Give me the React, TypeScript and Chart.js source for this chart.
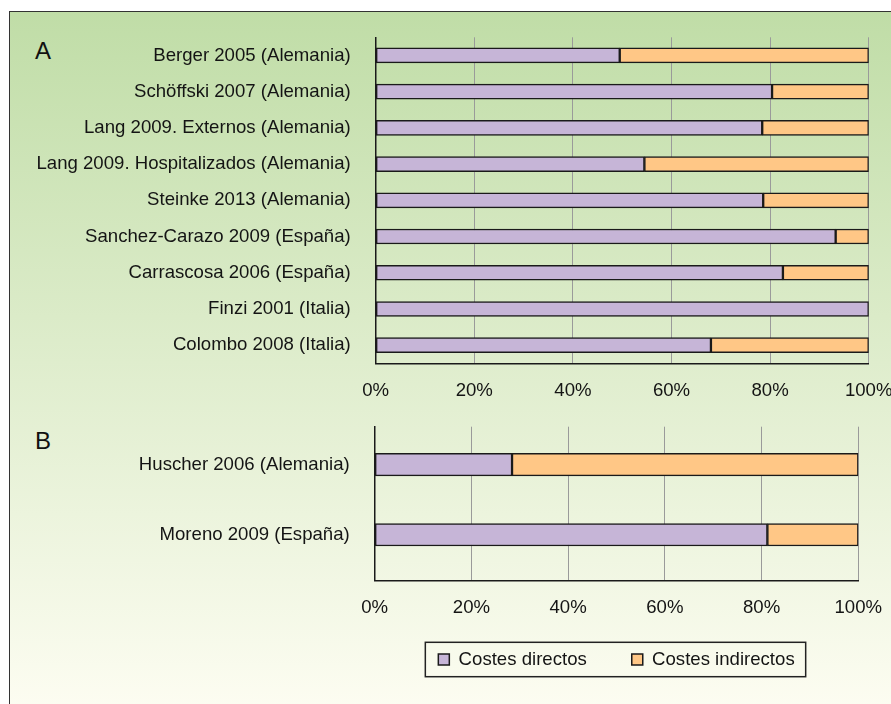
import React, { useEffect, useRef } from 'react';
import { Chart, registerables } from 'chart.js';

Chart.register(...registerables);

const categoriesA = [
  'Berger 2005 (Alemania)',
  'Schöffski 2007 (Alemania)',
  'Lang 2009. Externos (Alemania)',
  'Lang 2009. Hospitalizados (Alemania)',
  'Steinke 2013 (Alemania)',
  'Sanchez-Carazo 2009 (España)',
  'Carrascosa 2006 (España)',
  'Finzi 2001 (Italia)',
  'Colombo 2008 (Italia)',
];
const directosA = [49.5, 80.4, 78.4, 54.5, 78.6, 93.3, 82.6, 100, 68.0];
const indirectosA = [50.5, 19.6, 21.6, 45.5, 21.4, 6.7, 17.4, 0, 32.0];

const categoriesB = ['Huscher 2006 (Alemania)', 'Moreno 2009 (España)'];
const positionsB = [0, 1];
const directosB = [28.4, 81.2];
const indirectosB = [71.6, 18.8];

const seriesNames = ['Costes directos', 'Costes indirectos'];
const xTicks = [0, 20, 40, 60, 80, 100];

const FONT = '"Liberation Sans", Arial, Helvetica, sans-serif';
const FS = 18.6;
const PURPLE = '#c6b5d7';
const ORANGE = '#ffc786';
const EDGE = '#1a1a1a';
const TEXT = '#141414';
const GRID = '#9a9a9a';

const legendFrame = {
  id: 'legendFrame',
  afterLayout(chart: any) {
    const lg = chart.legend;
    if (!lg) return;
    lg.top -= 15.1;
    lg.bottom -= 15.1;
  },
  afterDraw(chart: any) {
    const lg = chart.legend;
    if (!lg || !lg.legendHitBoxes || !lg.legendHitBoxes.length) return;
    const hb = lg.legendHitBoxes;
    const first = hb[0];
    const last = hb[hb.length - 1];
    const cy = first.top + first.height / 2;
    const left = first.left - 13;
    const right = last.left + last.width + 11;
    const ctx = chart.ctx;
    ctx.save();
    ctx.strokeStyle = '#222';
    ctx.lineWidth = 1.5;
    ctx.strokeRect(left, cy - 17.2, right - left, 34.4);
    ctx.restore();
  },
};

function xScale(height: number) {
  return {
    type: 'linear',
    min: 0,
    max: 100,
    stacked: true,
    afterBuildTicks: (s: any) => {
      s.ticks = xTicks.map((v) => ({ value: v }));
    },
    afterFit: (s: any) => {
      s.height = height;
      s.paddingLeft = 0;
      s.paddingRight = 0;
    },
    grid: { color: GRID, lineWidth: 1, drawTicks: false },
    border: { display: true, color: EDGE, width: 1.5 },
    ticks: {
      padding: 16.5,
      color: TEXT,
      font: { family: FONT, size: FS },
      maxRotation: 0,
      callback: (v: any) => v + '%',
    },
  };
}

export default function App() {
  const refA = useRef<HTMLCanvasElement | null>(null);
  const refB = useRef<HTMLCanvasElement | null>(null);

  useEffect(() => {
    const common = {
      borderColor: EDGE,
      borderWidth: 1.5,
      borderSkipped: false,
    };
    const chartA = new Chart(refA.current as HTMLCanvasElement, {
      type: 'bar',
      data: {
        labels: categoriesA,
        datasets: [
          { label: seriesNames[0], data: directosA, backgroundColor: PURPLE, barThickness: 15, ...common },
          { label: seriesNames[1], data: indirectosA, backgroundColor: ORANGE, barThickness: 15, ...common },
        ],
      },
      options: {
        indexAxis: 'y',
        responsive: false,
        maintainAspectRatio: false,
        animation: false,
        layout: { padding: { top: 37.3, right: 22.3, bottom: 704 - 363.3 - 40, left: 0 } },
        plugins: { legend: { display: false }, tooltip: { enabled: false } },
        scales: {
          x: xScale(40) as any,
          y: {
            type: 'category',
            stacked: true,
            afterFit: (s: any) => {
              s.width = 375.7;
            },
            grid: { display: false, drawTicks: false },
            border: { display: true, color: EDGE, width: 1.5 },
            ticks: { padding: 25, color: TEXT, font: { family: FONT, size: FS } },
          },
        },
      } as any,
    });

    const chartB = new Chart(refB.current as HTMLCanvasElement, {
      type: 'bar',
      data: {
        datasets: [
          {
            label: seriesNames[0],
            data: directosB.map((v, i) => ({ x: v, y: positionsB[i] })),
            backgroundColor: PURPLE,
            barThickness: 22.5,
            grouped: false,
            ...common,
          },
          {
            label: seriesNames[1],
            data: indirectosB.map((v, i) => ({ x: v, y: positionsB[i] })),
            backgroundColor: ORANGE,
            barThickness: 22.5,
            grouped: false,
            ...common,
          },
        ],
      },
      options: {
        indexAxis: 'y',
        responsive: false,
        maintainAspectRatio: false,
        animation: false,
        layout: { padding: { top: 426.7, right: 891 - 858.3, bottom: 10.1, left: 0 } },
        plugins: {
          tooltip: { enabled: false },
          legend: {
            display: true,
            position: 'bottom',
            fullSize: false,
            labels: {
              boxWidth: 11,
              boxHeight: 11,
              padding: 45,
              color: TEXT,
              font: { family: FONT, size: FS },
            },
          },
        },
        scales: {
          x: xScale(40) as any,
          y: {
            type: 'linear',
            reverse: true,
            offset: false,
            min: -0.54,
            max: 1.65,
            bounds: 'data',
            stacked: false,
            afterBuildTicks: (s: any) => {
              s.ticks = positionsB.map((v) => ({ value: v }));
            },
            afterFit: (s: any) => {
              s.width = 374.7;
            },
            grid: { display: false, drawTicks: false, offset: false },
            border: { display: true, color: EDGE, width: 1.5 },
            ticks: {
              padding: 25,
              color: TEXT,
              font: { family: FONT, size: FS },
              callback: (v: any) => categoriesB[positionsB.indexOf(v)] ?? '',
            },
          },
        },
      } as any,
      plugins: [legendFrame as any],
    });

    return () => {
      chartA.destroy();
      chartB.destroy();
    };
  }, []);

  const letter: React.CSSProperties = {
    position: 'absolute',
    left: 35,
    fontFamily: FONT,
    fontSize: 24,
    lineHeight: '24px',
    color: '#111',
  };

  return (
    <div style={{ position: 'fixed', left: 0, top: 0, width: 891, height: 704, overflow: 'hidden', background: '#fff' }}>
      <div
        style={{
          position: 'absolute',
          left: 9,
          top: 11,
          width: 1000,
          height: 700,
          borderLeft: '1.5px solid #333',
          borderTop: '1.5px solid #333',
          background: 'linear-gradient(to bottom, #c0dda7 0%, #dfedcd 50%, #fdfdf2 100%)',
        }}
      />
      <div style={{ ...letter, top: 39 }}>A</div>
      <div style={{ ...letter, top: 429 }}>B</div>
      <canvas ref={refA} width={891} height={704} style={{ position: 'absolute', left: 0, top: 0, width: 891, height: 704 }} />
      <canvas ref={refB} width={891} height={704} style={{ position: 'absolute', left: 0, top: 0, width: 891, height: 704 }} />
    </div>
  );
}
